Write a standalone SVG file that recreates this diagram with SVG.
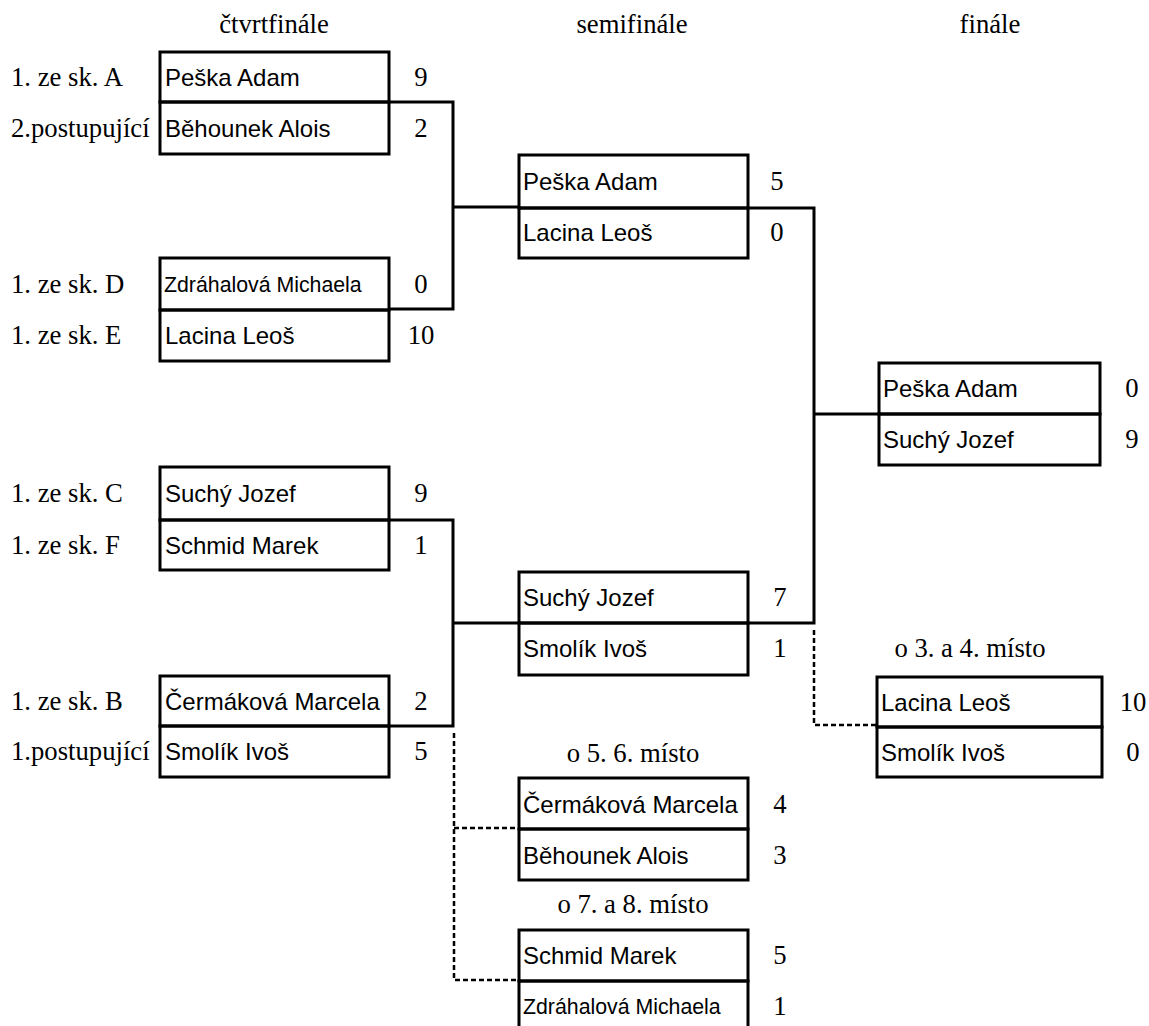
<svg xmlns="http://www.w3.org/2000/svg" width="1149" height="1026" viewBox="0 0 1149 1026">
<style>
.bg{fill:#fff}
.box rect{fill:none;stroke:#000;stroke-width:3}
.nm{font-family:"Liberation Sans",Arial,sans-serif;font-size:24px;fill:#000}
.sm{font-size:21.3px}
.sr{font-family:"Liberation Serif","Times New Roman",serif;font-size:26.7px;fill:#000}
.mid{text-anchor:middle}
.solid{fill:none;stroke:#000;stroke-width:3}
.dash{fill:none;stroke:#000;stroke-width:2.5;stroke-dasharray:5 3}
</style>
<rect class="bg" x="0" y="0" width="1149" height="1026"/>
<g id="headers">
<text class="sr mid" x="274" y="33">čtvrtfinále</text>
<text class="sr mid" x="632" y="33">semifinále</text>
<text class="sr mid" x="990" y="33">finále</text>
<text class="sr mid" x="970" y="657">o 3. a 4. místo</text>
<text class="sr mid" x="633" y="762">o 5. 6. místo</text>
<text class="sr mid" x="633" y="913">o 7. a 8. místo</text>
</g>
<g id="seeds">
<text class="sr" x="11" y="86">1. ze sk. A</text>
<text class="sr" x="11" y="137">2.postupující</text>
<text class="sr" x="11" y="293">1. ze sk. D</text>
<text class="sr" x="11" y="344">1. ze sk. E</text>
<text class="sr" x="11" y="502">1. ze sk. C</text>
<text class="sr" x="11" y="554">1. ze sk. F</text>
<text class="sr" x="11" y="710">1. ze sk. B</text>
<text class="sr" x="11" y="760">1.postupující</text>
</g>
<g id="connectors">
<path class="solid" d="M389,102 H453 V309 H389 M453,207 H519"/>
<path class="solid" d="M389,520 H453 V726 H389 M453,623 H519"/>
<path class="solid" d="M748,208 H814 V623 H748 M814,414 H879"/>
<path class="dash" d="M814,630 V725 H877"/>
<path class="dash" d="M454,733 V980 H519 M454,828 H519"/>
</g>
<g id="qf1" class="box">
<rect x="160" y="52" width="229" height="50"/><rect x="160" y="102" width="229" height="52"/>
<text class="nm" x="165" y="86">Peška Adam</text><text class="sr mid" x="421" y="86">9</text>
<text class="nm" x="165" y="137">Běhounek Alois</text><text class="sr mid" x="421" y="137">2</text>
</g>
<g id="qf2" class="box">
<rect x="160" y="258" width="229" height="52"/><rect x="160" y="310" width="229" height="51"/>
<text class="nm sm" x="164" y="292">Zdráhalová Michaela</text><text class="sr mid" x="421" y="293">0</text>
<text class="nm" x="165" y="344">Lacina Leoš</text><text class="sr mid" x="421" y="344">10</text>
</g>
<g id="qf3" class="box">
<rect x="160" y="467" width="229" height="53"/><rect x="160" y="520" width="229" height="50"/>
<text class="nm" x="165" y="502">Suchý Jozef</text><text class="sr mid" x="421" y="502">9</text>
<text class="nm" x="165" y="554">Schmid Marek</text><text class="sr mid" x="421" y="554">1</text>
</g>
<g id="qf4" class="box">
<rect x="160" y="676" width="229" height="50"/><rect x="160" y="726" width="229" height="51"/>
<text class="nm" x="165" y="710">Čermáková Marcela</text><text class="sr mid" x="421" y="710">2</text>
<text class="nm" x="165" y="760">Smolík Ivoš</text><text class="sr mid" x="421" y="760">5</text>
</g>
<g id="sf1" class="box">
<rect x="519" y="155" width="229" height="53"/><rect x="519" y="208" width="229" height="50"/>
<text class="nm" x="523" y="190">Peška Adam</text><text class="sr mid" x="777" y="190">5</text>
<text class="nm" x="523" y="241">Lacina Leoš</text><text class="sr mid" x="777" y="241">0</text>
</g>
<g id="sf2" class="box">
<rect x="519" y="572" width="229" height="51"/><rect x="519" y="623" width="229" height="52"/>
<text class="nm" x="523" y="606">Suchý Jozef</text><text class="sr mid" x="780" y="606">7</text>
<text class="nm" x="523" y="657">Smolík Ivoš</text><text class="sr mid" x="780" y="657">1</text>
</g>
<g id="final" class="box">
<rect x="879" y="363" width="221" height="51"/><rect x="879" y="414" width="221" height="51"/>
<text class="nm" x="883" y="397">Peška Adam</text><text class="sr mid" x="1132" y="397">0</text>
<text class="nm" x="883" y="448">Suchý Jozef</text><text class="sr mid" x="1132" y="448">9</text>
</g>
<g id="third" class="box">
<rect x="877" y="677" width="225" height="50"/><rect x="877" y="727" width="225" height="50"/>
<text class="nm" x="881" y="711">Lacina Leoš</text><text class="sr mid" x="1133" y="711">10</text>
<text class="nm" x="881" y="761">Smolík Ivoš</text><text class="sr mid" x="1133" y="761">0</text>
</g>
<g id="fifth" class="box">
<rect x="519" y="778" width="229" height="51"/><rect x="519" y="829" width="229" height="51"/>
<text class="nm" x="523" y="813">Čermáková Marcela</text><text class="sr mid" x="780" y="813">4</text>
<text class="nm" x="523" y="864">Běhounek Alois</text><text class="sr mid" x="780" y="864">3</text>
</g>
<g id="seventh" class="box">
<rect x="519" y="930" width="229" height="51"/><rect x="519" y="981" width="229" height="60"/>
<text class="nm" x="523" y="964">Schmid Marek</text><text class="sr mid" x="780" y="964">5</text>
<text class="nm sm" x="523" y="1014">Zdráhalová Michaela</text><text class="sr mid" x="780" y="1015">1</text>
</g>
</svg>
